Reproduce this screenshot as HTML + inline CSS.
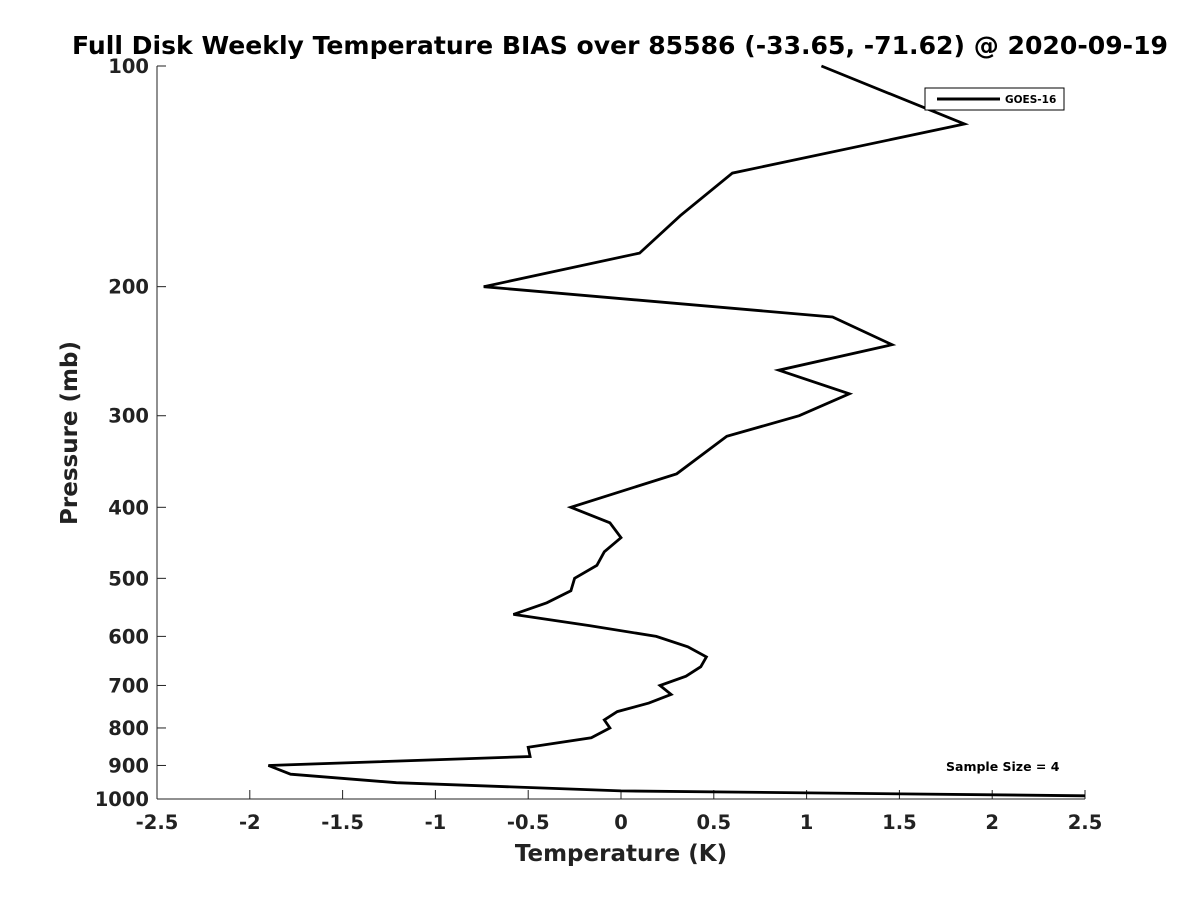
<!DOCTYPE html>
<html><head><meta charset="utf-8"><style>
body{margin:0;background:#fff;font-family:"Liberation Sans","DejaVu Sans",sans-serif}
svg text{font-family:"DejaVu Sans","Liberation Sans",sans-serif;font-weight:bold;fill:#222}
</style></head><body>
<svg id="chart" width="1200" height="900" viewBox="0 0 1200 900" xmlns="http://www.w3.org/2000/svg">
<rect width="1200" height="900" fill="#fff"/>
<text x="620" y="54" text-anchor="middle" font-size="25" style="fill:#000" textLength="1096" lengthAdjust="spacingAndGlyphs">Full Disk Weekly Temperature BIAS over 85586 (-33.65, -71.62) @ 2020-09-19</text>
<g id="axes"></g>
<polyline id="series" fill="none" stroke="#000" stroke-width="2.8" stroke-linejoin="miter"/>
<g>
<rect x="925" y="88" width="139" height="22" fill="#fff" stroke="#000" stroke-width="1"/>
<line x1="937" y1="99" x2="1000" y2="99" stroke="#000" stroke-width="3"/>
<text x="1005" y="103" font-size="10.5" style="fill:#000">GOES-16</text>
</g>
<text x="946" y="771" font-size="12.5" style="fill:#000">Sample Size = 4</text>
<text x="621" y="861" text-anchor="middle" font-size="23">Temperature (K)</text>
<text transform="translate(77,433) rotate(-90)" text-anchor="middle" font-size="23">Pressure (mb)</text>
</svg>
<script>
const temps=[1.08,1.85,0.60,0.32,0.10,-0.74,1.14,1.46,0.85,1.23,0.96,0.57,0.30,-0.27,-0.06,0.0,-0.09,-0.13,-0.25,-0.27,-0.40,-0.58,-0.17,0.19,0.36,0.46,0.43,0.35,0.21,0.27,0.15,-0.02,-0.09,-0.06,-0.16,-0.50,-0.49,-1.90,-1.78,-1.21,0.00,2.5];
const pressures=[100,120,140,160,180,200,220,240,260,280,300,320,360,400,420,440,460,480,500,520,540,560,580,600,620,640,660,680,700,720,740,760,780,800,825,850,875,900,925,950,975,990];
const xTicks=[-2.5,-2,-1.5,-1,-0.5,0,0.5,1,1.5,2,2.5];
const yTicks=[100,200,300,400,500,600,700,800,900,1000];
const X0=157,X1=1085,Y0=66,Y1=799;
const xs=v=>X0+(v+2.5)/5*(X1-X0);
const ys=p=>Y0+Math.log10(p/100)*(Y1-Y0);
const NS="http://www.w3.org/2000/svg";
const ax=document.getElementById('axes');
function mk(t,a,p){const e=document.createElementNS(NS,t);for(const k in a)e.setAttribute(k,a[k]);(p||ax).appendChild(e);return e;}
mk('line',{x1:X0,y1:Y0,x2:X0,y2:Y1,stroke:'#222','stroke-width':1});
mk('line',{x1:X0,y1:Y1,x2:X1,y2:Y1,stroke:'#222','stroke-width':1});
xTicks.forEach(v=>{const x=xs(v);mk('line',{x1:x,y1:Y1,x2:x,y2:Y1-9,stroke:'#222'});
const t=mk('text',{x:x,y:Y1+30,'text-anchor':'middle','font-size':19.5});t.textContent=String(v);

});
yTicks.forEach(p=>{const y=ys(p);mk('line',{x1:X0,y1:y,x2:X0+9,y2:y,stroke:'#222'});
const t=mk('text',{x:X0-8,y:y+7,'text-anchor':'end','font-size':19.5});t.textContent=String(p);

});
document.getElementById('series').setAttribute('points',temps.map((t,i)=>xs(t).toFixed(1)+','+ys(pressures[i]).toFixed(1)).join(' '));
</script>
</body></html>
